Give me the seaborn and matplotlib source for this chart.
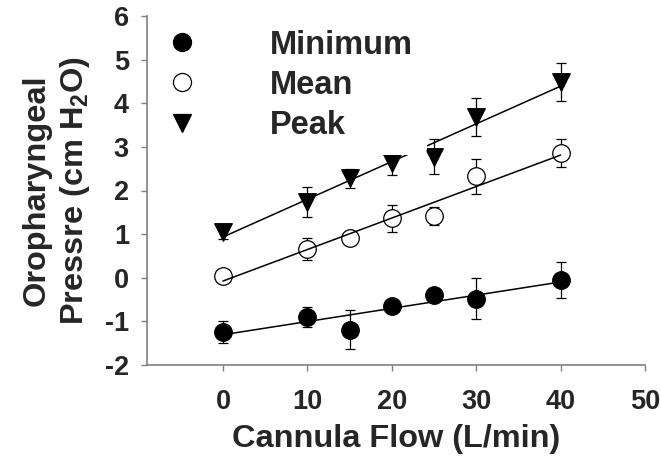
import numpy as np
import pandas as pd
import matplotlib
matplotlib.use("Agg")
import matplotlib.pyplot as plt
from matplotlib.lines import Line2D
import seaborn as sns

# Data
flow = [0, 10, 15, 20, 25, 30, 40]
minimum = [-1.24, -0.90, -1.19, -0.64, -0.40, -0.48, -0.06]
minimum_err = [0.26, 0.24, 0.45, 0.12, 0.10, 0.47, 0.41]
mean = [0.05, 0.65, 0.90, 1.36, 1.42, 2.33, 2.87]
mean_err = [0.10, 0.25, 0.12, 0.30, 0.20, 0.40, 0.32]
peak = [1.05, 1.74, 2.28, 2.62, 2.77, 3.69, 4.49]
peak_err = [0.16, 0.35, 0.22, 0.27, 0.40, 0.44, 0.43]

series = ["Minimum", "Mean", "Peak"]
xticks = [0, 10, 20, 30, 40, 50]
yticks = [-2, -1, 0, 1, 2, 3, 4, 5, 6]

df = pd.DataFrame({
    "flow": flow * 3,
    "pressure": minimum + mean + peak,
    "err": minimum_err + mean_err + peak_err,
    "kind": [s for s in series for _ in flow],
})

sns.set_style("ticks")
plt.rcParams["font.family"] = ["Liberation Sans", "DejaVu Sans"]
plt.rcParams["font.weight"] = "bold"
plt.rcParams["axes.unicode_minus"] = False
plt.rcParams["mathtext.fontset"] = "custom"
plt.rcParams["mathtext.rm"] = "Liberation Sans:bold"
plt.rcParams["mathtext.it"] = "Liberation Sans:bold"
plt.rcParams["mathtext.bf"] = "Liberation Sans:bold"

styles = {
    "Minimum": dict(marker="o", face="black"),
    "Mean": dict(marker="o", face="white"),
    "Peak": dict(marker="v", face="black"),
}

fig = plt.figure(figsize=(6.61, 4.66), dpi=100)
ax = fig.add_axes([147 / 661, 1 - 365 / 466, 498 / 661, 349 / 466])

for name in series:
    d = df[df["kind"] == name]
    st = styles[name]
    # error bars behind the markers
    ax.errorbar(d["flow"], d["pressure"], yerr=d["err"], fmt="none",
                ecolor="black", elinewidth=0.9, capsize=3.6, capthick=0.9, zorder=1)
    sns.scatterplot(x=d["flow"], y=d["pressure"], marker=st["marker"], s=160,
                    color=st["face"], edgecolor="black", linewidth=0.9,
                    ax=ax, zorder=2, legend=False)
    # fitted regression line on top of markers
    sns.regplot(x=d["flow"], y=d["pressure"], scatter=False, ci=None, truncate=True,
                ax=ax, line_kws=dict(color="black", linewidth=1.1, zorder=3))

ax.set_xlim(-9, 50)
ax.set_ylim(-2, 6)
ax.set_xticks(xticks)
ax.set_yticks(yticks)
ax.tick_params(axis="both", labelsize=19.5, length=4, width=1, color="#808080", direction="out")
for lab in ax.get_xticklabels() + ax.get_yticklabels():
    lab.set_fontweight("bold")
ax.tick_params(axis="x", pad=13)
ax.tick_params(axis="y", pad=9)

sns.despine(ax=ax)
for sp in ["left", "bottom"]:
    ax.spines[sp].set_color("#808080")
    ax.spines[sp].set_linewidth(1.2)

ax.set_xlabel("Cannula Flow (L/min)", fontsize=23.4, fontweight="bold", labelpad=7)
ax.set_ylabel("Oropharyngeal\nPressre (cm H$_2$O)", fontsize=23.4, fontweight="bold",
              labelpad=9, linespacing=1.25)

# legend with an opaque white box, drawn above the fitted lines
handles = [
    Line2D([], [], linestyle="none", marker=styles[n]["marker"], markersize=13,
           markerfacecolor=styles[n]["face"], markeredgecolor="black", markeredgewidth=0.9)
    for n in series
]
leg = ax.legend(handles, series, loc="upper left", bbox_to_anchor=(0.010, 1.0),
                borderaxespad=0, frameon=True, framealpha=1,
                facecolor="white", edgecolor="none", handlelength=1.0,
                handletextpad=2.2, labelspacing=0.28, borderpad=0.42,
                prop={"weight": "bold", "size": 23.5})
leg.set_zorder(5)

fig.savefig("out.png", dpi=100)
